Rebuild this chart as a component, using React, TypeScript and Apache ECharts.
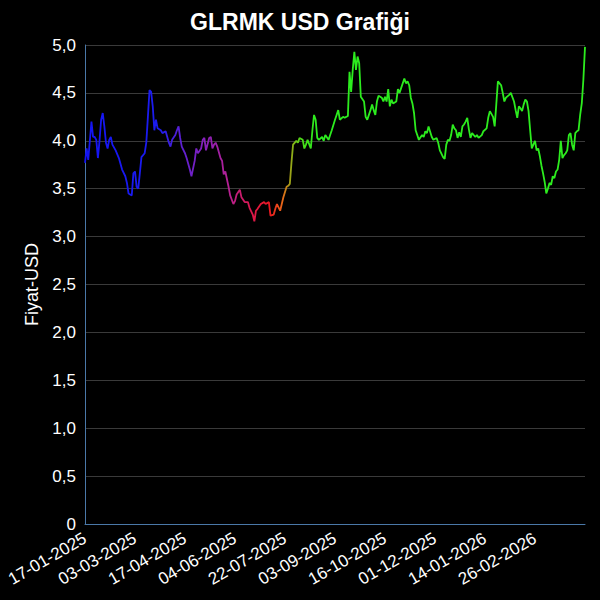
import React, { useEffect, useRef } from "react";
import * as echarts from "echarts";

// Trading-day calendar (Borsa İstanbul): weekdays minus full-day holidays
const startDate = "2025-01-17";
const endDate = "2026-04-13";
const holidays = [
  "2025-01-01", "2025-03-31", "2025-04-01", "2025-04-23", "2025-05-01",
  "2025-05-19", "2025-06-06", "2025-06-09", "2025-07-15", "2025-10-29",
  "2026-01-01", "2026-03-20", "2026-04-23",
];

// Closing prices: [trading-day index, price in USD]
const prices: [number, number][] = [
  [0, 3.77], [1, 3.92], [2, 3.8], [3, 4.0], [4, 4.2], [5, 4.04], [6, 4.04], [7, 4.01],
  [8, 3.82], [9, 4.0], [10, 4.22], [11, 4.29], [12, 4.15], [13, 3.98], [14, 3.92],
  [15, 4.01], [16, 4.04], [17, 3.96], [19, 3.9], [21, 3.82], [23, 3.7], [25, 3.63],
  [26, 3.56], [27, 3.45], [28, 3.44], [29, 3.43], [30, 3.66], [31, 3.68], [32, 3.52],
  [33, 3.5], [34, 3.66], [35, 3.83], [37, 3.87], [38, 3.98], [39, 4.25], [40, 4.53],
  [41, 4.51], [42, 4.36], [43, 4.11], [44, 4.22], [45, 4.13], [47, 4.11], [48, 4.08],
  [50, 4.1], [51, 4.04], [52, 3.98], [53, 3.94], [54, 4.01], [56, 4.06], [57, 4.11],
  [58, 4.15], [59, 4.03], [60, 3.94], [62, 3.87], [63, 3.82], [65, 3.7], [66, 3.63],
  [68, 3.79], [69, 3.92], [70, 3.87], [72, 3.92], [73, 4.01], [74, 4.03], [75, 3.9],
  [77, 4.03], [78, 4.04], [79, 3.92], [80, 3.96], [81, 3.98], [82, 3.94], [84, 3.82],
  [85, 3.79], [86, 3.65], [87, 3.68], [89, 3.52], [90, 3.43], [92, 3.34], [93, 3.37],
  [94, 3.44], [96, 3.49], [97, 3.41], [99, 3.36], [101, 3.36], [102, 3.3], [104, 3.23],
  [105, 3.16], [106, 3.27], [107, 3.29], [109, 3.34], [111, 3.36], [112, 3.34],
  [114, 3.36], [115, 3.22], [117, 3.23], [118, 3.29], [119, 3.34], [121, 3.27],
  [122, 3.34], [123, 3.41], [125, 3.52], [126, 3.53], [127, 3.55], [128, 3.77],
  [129, 3.96], [131, 4.0], [132, 3.98], [133, 4.03], [135, 4.01], [136, 3.92],
  [137, 3.96], [138, 4.01], [140, 3.92], [141, 4.11], [142, 4.27], [143, 4.22],
  [144, 4.03], [145, 4.01], [147, 4.04], [148, 4.0], [149, 4.06], [151, 4.01],
  [152, 4.06], [153, 4.11], [155, 4.22], [156, 4.27], [157, 4.32], [158, 4.22],
  [160, 4.25], [161, 4.24], [163, 4.26], [164, 4.72], [165, 4.51], [166, 4.74],
  [167, 4.93], [168, 4.74], [169, 4.88], [170, 4.81], [171, 4.46], [173, 4.41],
  [174, 4.25], [175, 4.22], [177, 4.32], [178, 4.38], [179, 4.32], [180, 4.27],
  [181, 4.41], [182, 4.47], [184, 4.45], [185, 4.41], [186, 4.46], [187, 4.41],
  [188, 4.54], [189, 4.36], [190, 4.43], [191, 4.39], [193, 4.41], [194, 4.54],
  [195, 4.5], [196, 4.55], [198, 4.65], [199, 4.6], [200, 4.62], [201, 4.58],
  [202, 4.45], [203, 4.39], [204, 4.29], [205, 4.11], [206, 4.06], [207, 4.01],
  [209, 4.06], [210, 4.04], [211, 4.1], [212, 4.08], [213, 4.15], [215, 4.04],
  [216, 4.01], [218, 4.03], [219, 3.98], [220, 3.9], [222, 3.83], [223, 3.81],
  [224, 3.96], [225, 4.01], [226, 4.0], [227, 4.06], [228, 4.17], [229, 4.13],
  [230, 4.11], [231, 4.03], [232, 4.09], [233, 4.04], [234, 4.15], [235, 4.17],
  [236, 4.2], [237, 4.24], [238, 4.12], [239, 4.03], [240, 4.08], [242, 4.04],
  [243, 4.06], [244, 4.03], [246, 4.06], [247, 4.1], [249, 4.13], [250, 4.24],
  [251, 4.31], [253, 4.25], [254, 4.15], [255, 4.38], [256, 4.62], [257, 4.6],
  [258, 4.58], [259, 4.5], [260, 4.41], [261, 4.45], [263, 4.48], [264, 4.5],
  [266, 4.41], [267, 4.32], [268, 4.24], [269, 4.36], [270, 4.34], [271, 4.31],
  [272, 4.38], [273, 4.43], [274, 4.41], [275, 4.31], [276, 4.11], [277, 3.92],
  [278, 3.96], [279, 4.0], [280, 3.9], [281, 3.92], [282, 3.84], [283, 3.74],
  [284, 3.66], [285, 3.57], [286, 3.45], [287, 3.5], [288, 3.56], [289, 3.54],
  [290, 3.63], [291, 3.61], [292, 3.68], [293, 3.7], [294, 3.8], [295, 4.0],
  [296, 3.82], [297, 3.85], [298, 3.87], [299, 3.9], [300, 4.06], [301, 4.08],
  [302, 3.96], [303, 3.9], [304, 4.08], [305, 4.1], [306, 4.11], [307, 4.27],
  [308, 4.39], [309, 4.64], [310, 4.98],
];

const yTicks = { min: 0, max: 5, step: 0.5 };
const labelEvery = 31;
const lastLabelIndex = 279;

function tradingDays(): string[] {
  const out: string[] = [];
  const hol = new Set(holidays);
  const d = new Date(startDate + "T12:00:00Z");
  const end = new Date(endDate + "T12:00:00Z");
  while (d <= end) {
    const wd = d.getUTCDay();
    const iso = d.toISOString().slice(0, 10);
    if (wd !== 0 && wd !== 6 && !hol.has(iso)) {
      const [y, m, day] = iso.split("-");
      out.push(`${day}-${m}-${y}`);
    }
    d.setUTCDate(d.getUTCDate() + 1);
  }
  return out;
}

export default function App() {
  const ref = useRef<HTMLDivElement>(null);
  useEffect(() => {
    if (!ref.current) return;
    const chart = echarts.init(ref.current, null, { renderer: "svg" });
    const dates = tradingDays();
    const font = "Liberation Sans, Arial, Helvetica, sans-serif";
    chart.setOption({
      animation: false,
      backgroundColor: "#000000",
      title: {
        text: "GLRMK USD Grafiği",
        left: "center",
        top: 5,
        textStyle: { color: "#ffffff", fontSize: 23, fontWeight: "bold", fontFamily: font },
      },
      grid: { left: 85, right: 15, top: 45, bottom: 76, containLabel: false },
      xAxis: {
        type: "category",
        data: dates,
        boundaryGap: false,
        axisLine: { show: true, lineStyle: { color: "#4a78a8", width: 1 } },
        axisTick: { show: false },
        splitLine: { show: false },
        axisLabel: {
          color: "#ffffff",
          fontSize: 17,
          fontFamily: font,
          rotate: 30,
          margin: 13,
          interval: (i: number) => i % labelEvery === 0 && i <= lastLabelIndex,
        },
      },
      yAxis: {
        type: "value",
        min: yTicks.min,
        max: yTicks.max,
        interval: yTicks.step,
        name: "Fiyat-USD",
        nameLocation: "middle",
        nameGap: 42,
        nameTextStyle: { color: "#ffffff", fontSize: 18, fontFamily: font },
        axisLine: { show: true, lineStyle: { color: "#4a78a8", width: 1 } },
        axisTick: { show: false },
        splitLine: { show: true, lineStyle: { color: "#3a3a3a", width: 1 } },
        axisLabel: {
          color: "#ffffff",
          fontSize: 17,
          fontFamily: font,
          margin: 9,
          formatter: (v: number) => (v === 0 ? "0" : v.toFixed(1).replace(".", ",")),
        },
      },
      series: [
        {
          type: "line",
          data: prices.map(([i, v]) => [dates[i], v]),
          showSymbol: false,
          lineStyle: {
            width: 1.8,
            color: new echarts.graphic.LinearGradient(0, 0, 1, 0, [
              { offset: 0, color: "#1414f4" },
              { offset: 0.15, color: "#1c1cee" },
              { offset: 0.19, color: "#5a20d4" },
              { offset: 0.25, color: "#9020b4" },
              { offset: 0.29, color: "#b82090" },
              { offset: 0.33, color: "#d81850" },
              { offset: 0.37, color: "#ec1820" },
              { offset: 0.395, color: "#e86818" },
              { offset: 0.41, color: "#a0a018" },
              { offset: 0.43, color: "#50d818" },
              { offset: 0.46, color: "#2cec1e" },
              { offset: 1, color: "#2cec1e" },
            ]),
          },
        },
      ],
    });
    return () => chart.dispose();
  }, []);
  return (
    <div
      ref={ref}
      style={{ position: "fixed", left: 0, top: 0, width: 600, height: 600 }}
    />
  );
}
